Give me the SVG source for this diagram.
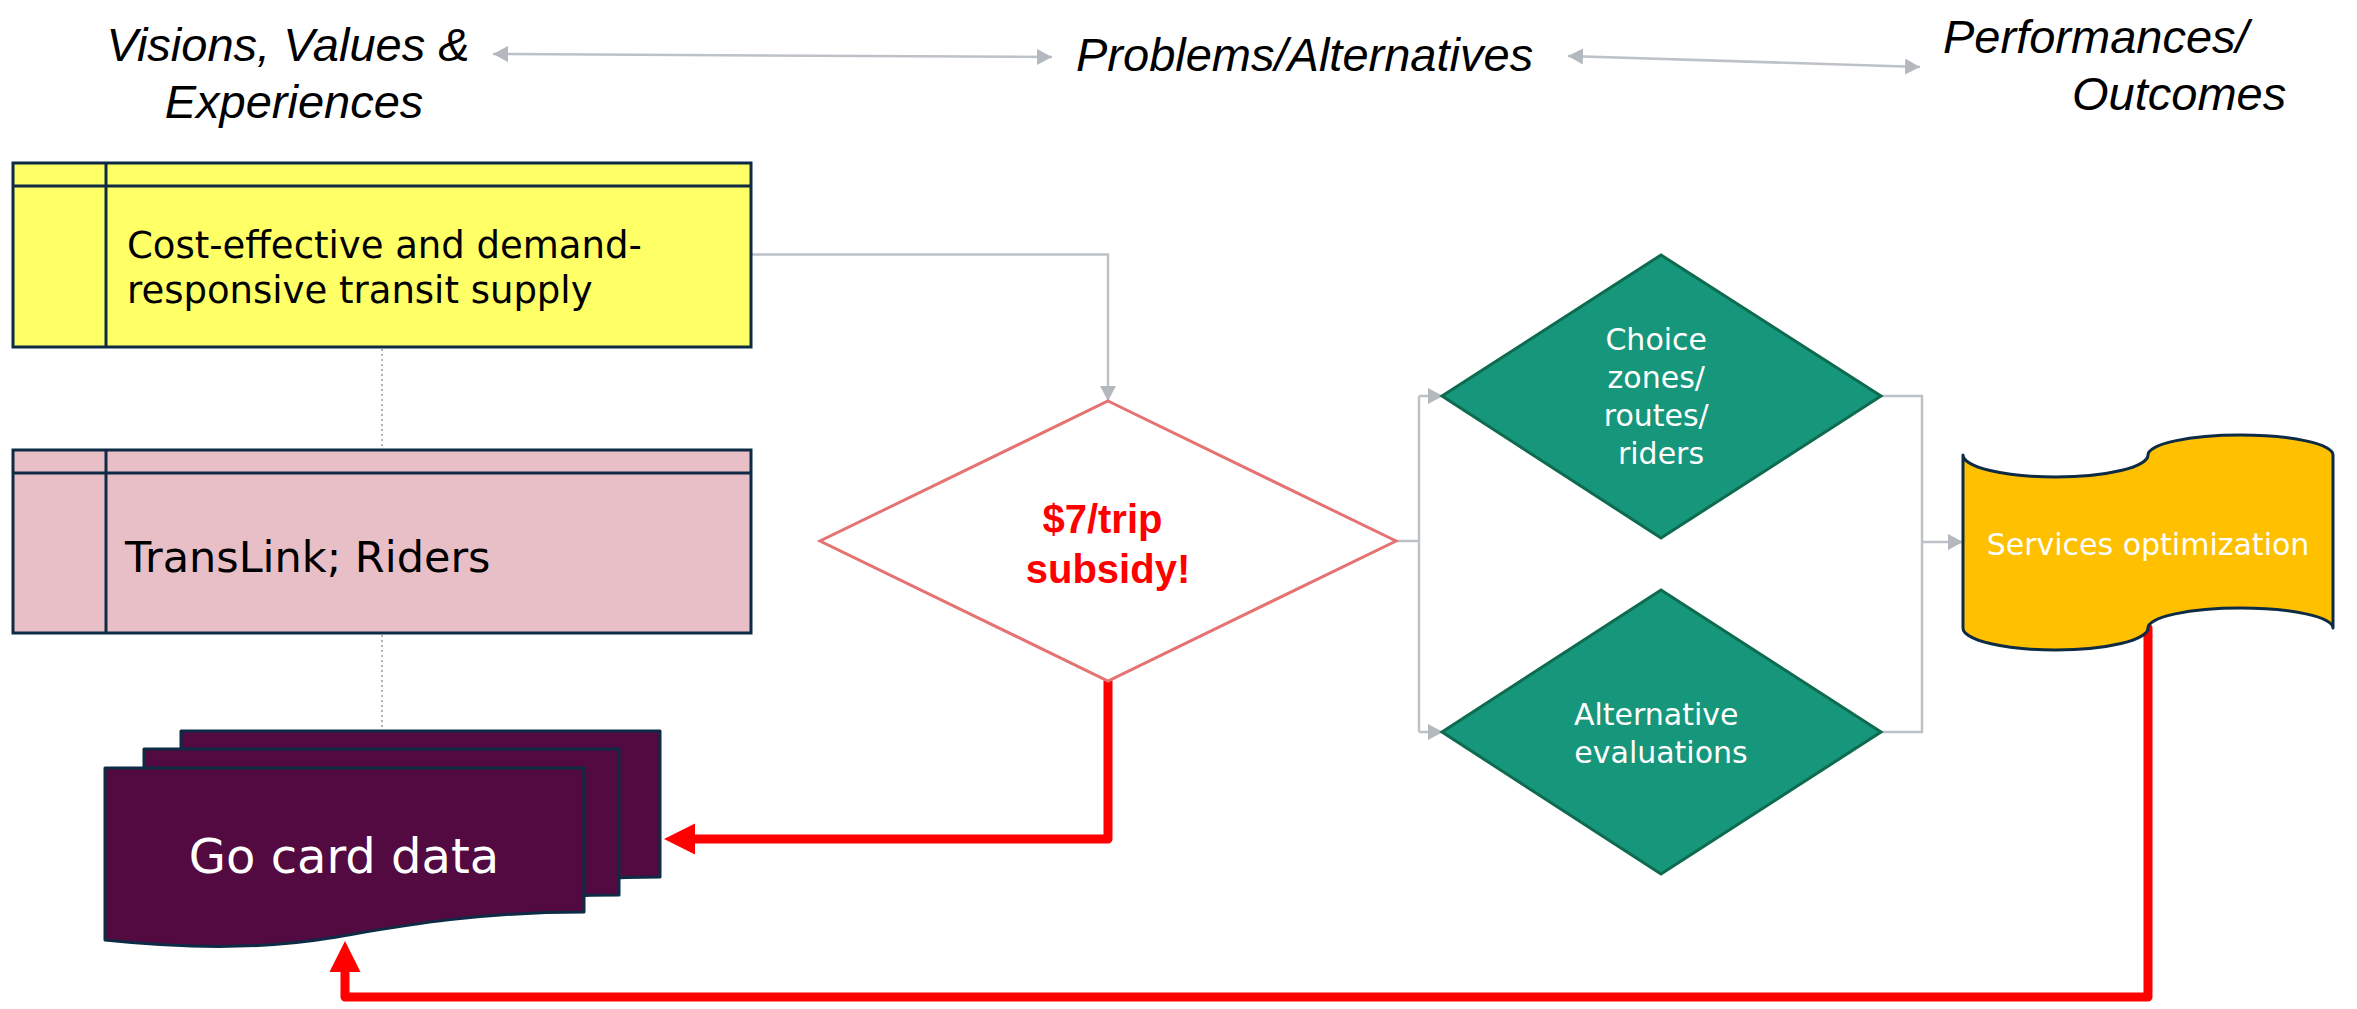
<svg xmlns="http://www.w3.org/2000/svg" width="2357" height="1009" viewBox="0 0 2357 1009">
  <style>
    .title { font-family: "Liberation Sans", Arial, sans-serif; font-style: italic; font-size: 47px; fill: #000; }
    .body { font-family: "DejaVu Sans", "Noto Sans", sans-serif; }
    .lane { stroke: #0D2B45; stroke-width: 3; }
    .conn { fill: none; stroke: #BDC2C8; stroke-width: 2.5; }
    .red { fill: none; stroke: #FF0000; stroke-width: 9; stroke-linecap: round; stroke-linejoin: round; }
    .dot { stroke: #AEB3BA; stroke-width: 2; stroke-dasharray: 2 3; }
    .teal { fill: #16967A; stroke: #0E6B50; stroke-width: 3; }
    .card { fill: #520A40; stroke: #0D2B45; stroke-width: 3; stroke-linejoin: round; }
  </style>
  <defs>
    <marker id="ga" markerUnits="userSpaceOnUse" markerWidth="16" markerHeight="16" refX="15" refY="8" orient="auto-start-reverse">
      <path d="M0,0 L15,8 L0,16 z" fill="#B4B9C0"/>
    </marker>
    <marker id="ra" markerUnits="userSpaceOnUse" markerWidth="32" markerHeight="32" refX="1" refY="16" orient="auto">
      <path d="M0,0.5 L31,16 L0,31.5 z" fill="#FF0000"/>
    </marker>
  </defs>
  <rect width="2357" height="1009" fill="#FFFFFF"/>

  <!-- titles -->
  <g id="title-visions">
    <text class="title" x="288" y="61" text-anchor="middle">Visions, Values &amp;</text>
    <text class="title" x="294" y="118" text-anchor="middle">Experiences</text>
  </g>
  <g id="title-problems">
    <text class="title" x="1076" y="71">Problems/Alternatives</text>
  </g>
  <g id="title-performances">
    <text class="title" x="1943" y="53">Performances/</text>
    <text class="title" x="2072" y="110">Outcomes</text>
  </g>

  <!-- connectors -->
  <g id="connectors">
    <line class="conn" x1="493" y1="54" x2="1052" y2="57" marker-start="url(#ga)" marker-end="url(#ga)"/>
    <line class="conn" x1="1568" y1="56" x2="1920" y2="67" marker-start="url(#ga)" marker-end="url(#ga)"/>
    <line class="dot" x1="382" y1="349" x2="382" y2="449"/>
    <line class="dot" x1="382" y1="635" x2="382" y2="730"/>
    <path class="conn" d="M751,254.5 H1108 V401" marker-end="url(#ga)"/>
    <path class="conn" d="M1396,541 H1419 M1419,396 V732"/>
    <path class="conn" d="M1419,396 H1443" marker-end="url(#ga)"/>
    <path class="conn" d="M1419,732 H1443" marker-end="url(#ga)"/>
    <path class="conn" d="M1881,396 H1922 V732 H1881"/>
    <path class="conn" d="M1922,542 H1963" marker-end="url(#ga)"/>
    <path class="red" d="M1108,681 V839 H694" marker-end="url(#ra)"/>
    <path class="red" d="M2148,628 V997 H345 V971" marker-end="url(#ra)"/>
  </g>

  <!-- yellow lane -->
  <g id="node-cost-effective">
    <rect class="lane" x="13" y="163" width="738" height="184" fill="#FFFF66"/>
    <line class="lane" x1="13" y1="186" x2="751" y2="186"/>
    <line class="lane" x1="106" y1="163" x2="106" y2="347"/>
    <text class="body" font-size="37" x="127" y="258" fill="#000">Cost-effective and demand-</text>
    <text class="body" font-size="37" x="127" y="303" fill="#000">responsive transit supply</text>
  </g>

  <!-- pink lane -->
  <g id="node-translink">
    <rect class="lane" x="13" y="450" width="738" height="183" fill="#E8BFC7"/>
    <line class="lane" x1="13" y1="473" x2="751" y2="473"/>
    <line class="lane" x1="106" y1="450" x2="106" y2="633"/>
    <text class="body" font-size="43" x="125" y="572" fill="#000">TransLink; Riders</text>
  </g>

  <!-- go card data stack -->
  <g id="node-go-card">
    <path class="card" d="M181,731 H660 V877 C546,877 466,893 406,903 C346,913 276,915 181,905 Z"/>
    <path class="card" d="M144,749 H619 V895 C505,895 425,911 365,921 C305,931 235,933 144,923 Z"/>
    <path class="card" d="M105,768 H584 V912 C470,912 390,928 330,938 C270,948 200,950 105,940 Z"/>
    <text class="body" font-size="48" x="344" y="873" text-anchor="middle" fill="#FFFFFF">Go card data</text>
  </g>

  <!-- subsidy decision -->
  <g id="node-subsidy">
    <polygon points="1108,401 1396,541 1108,681 820,541" fill="#FFFFFF" stroke="#E57373" stroke-width="3"/>
    <text font-family="Liberation Sans, Arial, sans-serif" font-weight="bold" font-size="40" fill="#FF0000" text-anchor="middle">
      <tspan x="1108" y="533">$7/trip</tspan>
      <tspan x="1108" y="583">subsidy!</tspan>
    </text>
  </g>

  <!-- choice decision -->
  <g id="node-choice">
    <polygon class="teal" points="1661,255 1881,396 1661,538 1442,396"/>
    <text class="body" font-size="30" fill="#FFFFFF" text-anchor="middle">
      <tspan x="1661" y="350">Choice</tspan>
      <tspan x="1661" y="388">zones/</tspan>
      <tspan x="1661" y="426">routes/</tspan>
      <tspan x="1661" y="464">riders</tspan>
    </text>
  </g>

  <!-- alternative evaluations -->
  <g id="node-alternative">
    <polygon class="teal" points="1661,590 1881,732 1661,874 1442,732"/>
    <text class="body" font-size="30" fill="#FFFFFF" text-anchor="middle">
      <tspan x="1661" y="725">Alternative</tspan>
      <tspan x="1661" y="763">evaluations</tspan>
    </text>
  </g>

  <!-- services optimization -->
  <g id="node-services">
    <path d="M1963,455 A92.5,22 0 0 0 2148,455 A92.5,20 0 0 1 2333,455 V628 A92.5,20 0 0 0 2148,628 A92.5,22 0 0 1 1963,628 Z" fill="#FFC000" stroke="#0D2B45" stroke-width="3" stroke-linejoin="round"/>
    <text class="body" font-size="30" x="2148" y="555" text-anchor="middle" fill="#FFFFFF">Services optimization</text>
  </g>
</svg>
